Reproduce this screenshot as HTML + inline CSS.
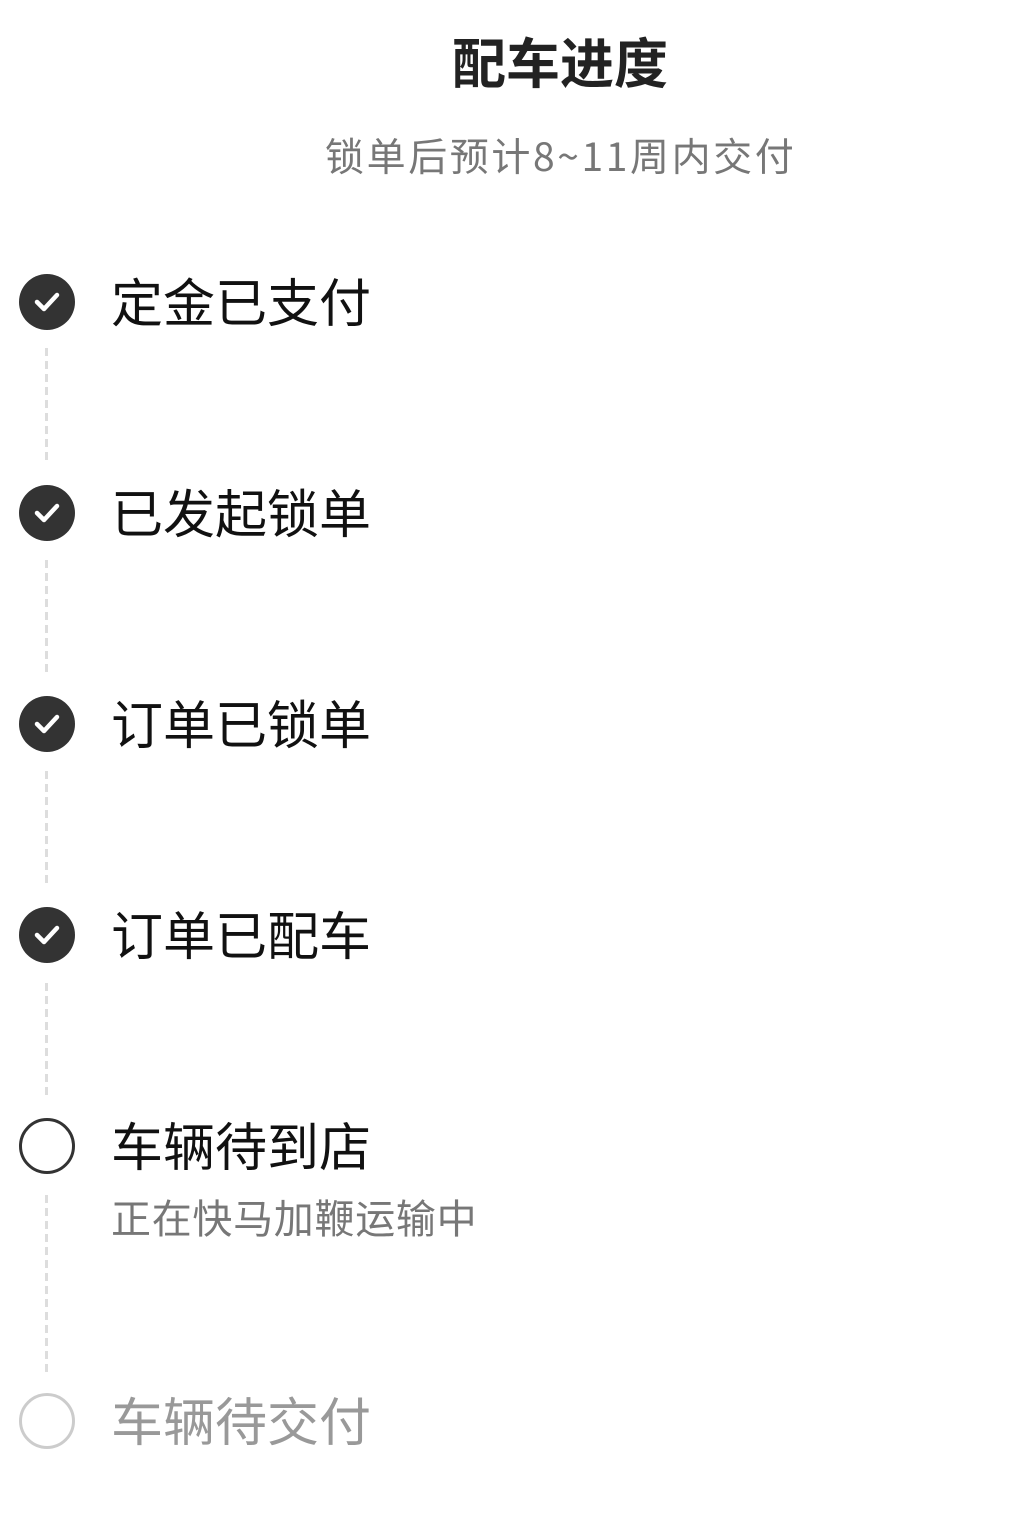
<!DOCTYPE html>
<html><head><meta charset="utf-8"><style>
html,body{margin:0;padding:0;background:#fff;}
body{width:1015px;height:1531px;position:relative;overflow:hidden;font-family:"Liberation Sans","Noto Sans CJK SC",sans-serif;}
.t{position:absolute;white-space:nowrap;line-height:1;}
.c{position:absolute;left:19px;width:56px;height:56px;border-radius:50%;box-sizing:border-box;}
.d{position:absolute;left:45px;width:3px;background:repeating-linear-gradient(to bottom,#ddd 0 8px,transparent 8px 13px);}
</style></head><body>
<div class="t" style="left:0;width:1120px;text-align:center;top:38px;font-size:54px;font-weight:bold;color:#222;">配车进度</div>
<div class="t" style="left:325px;top:136px;font-size:39px;color:#777;font-family:'Noto Sans CJK SC',sans-serif;letter-spacing:2.6px;">锁单后预计8~11周内交付</div>

<div class="c" style="top:274px;background:#333;"><svg width="56" height="56"><path d="M18 28 L25 35 L38 21" stroke="#fff" stroke-width="4.5" fill="none" stroke-linecap="round" stroke-linejoin="round"/></svg></div>
<div class="t" style="left:111px;top:279px;font-size:52px;color:#111;">定金已支付</div>
<div class="d" style="top:348px;height:116px;"></div>

<div class="c" style="top:485px;background:#333;"><svg width="56" height="56"><path d="M18 28 L25 35 L38 21" stroke="#fff" stroke-width="4.5" fill="none" stroke-linecap="round" stroke-linejoin="round"/></svg></div>
<div class="t" style="left:111px;top:490px;font-size:52px;color:#111;">已发起锁单</div>
<div class="d" style="top:560px;height:116px;"></div>

<div class="c" style="top:696px;background:#333;"><svg width="56" height="56"><path d="M18 28 L25 35 L38 21" stroke="#fff" stroke-width="4.5" fill="none" stroke-linecap="round" stroke-linejoin="round"/></svg></div>
<div class="t" style="left:111px;top:701px;font-size:52px;color:#111;">订单已锁单</div>
<div class="d" style="top:771px;height:116px;"></div>

<div class="c" style="top:907px;background:#333;"><svg width="56" height="56"><path d="M18 28 L25 35 L38 21" stroke="#fff" stroke-width="4.5" fill="none" stroke-linecap="round" stroke-linejoin="round"/></svg></div>
<div class="t" style="left:111px;top:912px;font-size:52px;color:#111;">订单已配车</div>
<div class="d" style="top:983px;height:116px;"></div>

<div class="c" style="top:1118px;border:3px solid #333;"></div>
<div class="t" style="left:111px;top:1123px;font-size:52px;color:#111;">车辆待到店</div>
<div class="t" style="left:111px;top:1200px;font-size:40px;color:#777;letter-spacing:0.7px;">正在快马加鞭运输中</div>
<div class="d" style="top:1195px;height:178px;"></div>

<div class="c" style="top:1393px;border:3px solid #ccc;"></div>
<div class="t" style="left:111px;top:1398px;font-size:52px;color:#999;">车辆待交付</div>
</body></html>
